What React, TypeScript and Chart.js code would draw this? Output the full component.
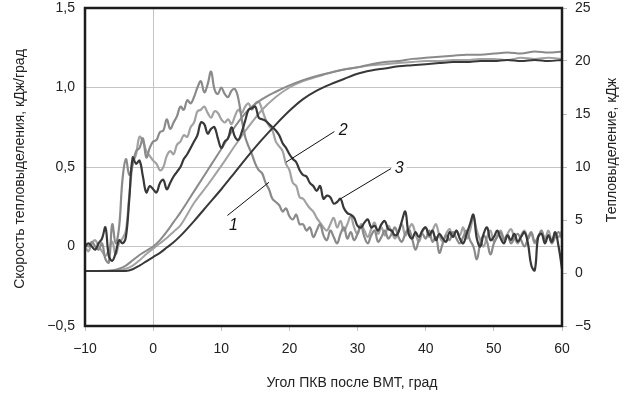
import React, { useEffect, useRef } from 'react';
import { Chart, registerables } from 'chart.js';

Chart.register(...registerables);

// ---- data ----
const angleStart = -10;
const angleStep = 0.5;

// heat release rate, kJ/deg (left axis), curves 1..3
const rate1 = [
  0.02, 0.0, 0.03, 0.0, -0.02, 0.02, -0.08, -0.1, 0.14, 0.02,
  0.12, 0.42, 0.55, 0.45, 0.52, 0.6, 0.62, 0.68, 0.56, 0.62,
  0.66, 0.67, 0.72, 0.73, 0.8, 0.74, 0.78, 0.82, 0.88, 0.86,
  0.92, 0.9, 0.94, 1.0, 1.04, 0.97, 1.02, 1.1, 0.99, 0.96,
  1.0, 0.96, 0.94, 0.98, 0.99, 0.93, 0.8, 0.69, 0.63, 0.58,
  0.52, 0.48, 0.46, 0.4, 0.36, 0.3, 0.28, 0.26, 0.22, 0.24,
  0.19, 0.17, 0.2, 0.14, 0.14, 0.1, 0.12, 0.06, 0.1, 0.14,
  0.07, 0.04, 0.1, 0.06, 0.02, 0.08, 0.12, 0.05, 0.09, 0.04,
  0.08, 0.13, 0.06, 0.02, 0.07, 0.1, 0.03, 0.06, 0.1, 0.05,
  0.08, 0.12, 0.06, 0.03, 0.08, 0.11, 0.05, -0.02, 0.04, 0.08,
  0.05, 0.1, 0.03, 0.06, -0.04, 0.02, 0.07, 0.04, 0.09, 0.05,
  0.02, 0.06, 0.1, 0.04, 0.0, -0.08, 0.02, 0.07, 0.03, -0.05,
  0.02, 0.06, 0.09, 0.04, 0.07, 0.02, 0.05, 0.08, 0.04, 0.0,
  0.05, 0.09, 0.03, 0.06, 0.1, 0.04, 0.07, 0.02, 0.06, 0.09,
  0.05,
];
const rate2 = [
  0.0, -0.03, 0.02, 0.04, 0.0, -0.03, -0.06, -0.02, 0.03, -0.05,
  0.02, 0.05, 0.1, 0.32, 0.52, 0.58, 0.69, 0.66, 0.6, 0.57,
  0.54, 0.52, 0.48, 0.5, 0.57, 0.6, 0.58, 0.64, 0.66, 0.7,
  0.69, 0.75, 0.78, 0.85, 0.86, 0.88, 0.84, 0.81, 0.85, 0.84,
  0.8, 0.78, 0.8, 0.77, 0.82, 0.86, 0.84, 0.88, 0.9, 0.86,
  0.9, 0.91, 0.86, 0.8, 0.76, 0.73, 0.66, 0.63, 0.6, 0.52,
  0.48, 0.4, 0.38, 0.31, 0.3, 0.27, 0.24, 0.22, 0.18, 0.15,
  0.12, 0.1, 0.14, 0.18, 0.12, 0.16, 0.1, 0.14, 0.19, 0.12,
  0.08, 0.14, 0.1, 0.06, 0.11, 0.15, 0.08, 0.12, 0.07, 0.13,
  0.09, 0.05, 0.1, 0.14, 0.07, 0.11, 0.14, 0.08, 0.03, 0.09,
  0.12, 0.06, 0.1, 0.14, 0.07, 0.03, 0.08, 0.11, 0.06, 0.1,
  0.07, 0.12, 0.05, 0.1, 0.18, 0.1, 0.04, 0.0, 0.06, 0.1,
  0.03, 0.07, 0.1, 0.05, 0.08, 0.11, 0.06, 0.02, 0.07, 0.1,
  0.05, 0.08, 0.02, 0.06, 0.09, 0.05, 0.1, 0.04, 0.08, 0.06,
  0.1,
];
const rate3 = [
  0.0, 0.02, 0.0, -0.02, 0.02, 0.05, 0.12, -0.06, -0.09, -0.04,
  0.04, 0.02, 0.06, 0.3, 0.56, 0.52, 0.54, 0.44, 0.34, 0.38,
  0.36, 0.34, 0.4, 0.42, 0.36, 0.4, 0.44, 0.47, 0.5, 0.55,
  0.58, 0.62, 0.66, 0.7, 0.78, 0.77, 0.71, 0.74, 0.75, 0.68,
  0.62, 0.66, 0.68, 0.75, 0.69, 0.67, 0.72, 0.79, 0.86, 0.87,
  0.88, 0.81, 0.8, 0.79, 0.77, 0.75, 0.73, 0.7, 0.65, 0.62,
  0.58, 0.55, 0.53, 0.48, 0.45, 0.44, 0.4, 0.38, 0.35, 0.38,
  0.3, 0.32, 0.31, 0.27, 0.28, 0.3, 0.24, 0.21, 0.2, 0.18,
  0.13, 0.12, 0.15, 0.17, 0.12, 0.13, 0.1, 0.14, 0.16, 0.11,
  0.1, 0.07, 0.09, 0.16, 0.22, 0.08, 0.05, 0.09, 0.06, 0.1,
  0.12, 0.07, 0.1, 0.04, 0.08, 0.05, 0.03, 0.09, 0.06, 0.1,
  0.05, 0.02, 0.08, 0.14, 0.2, 0.05, 0.0, 0.08, 0.12, 0.04,
  0.06, 0.1, 0.05, 0.02, 0.07, 0.04, 0.08, 0.03, 0.06, 0.09,
  0.02, -0.12, -0.15, 0.06, 0.08, 0.02, 0.07, 0.03, 0.09, 0.0,
  -0.14,
];
const rateAngles = rate1.map((_, i) => angleStart + i * angleStep);

// cumulative heat release, kJ (right axis)
const cumAngles = [
  -10, -8, -6, -5, -4, -3, -2, -1, 0, 1, 2, 3, 4, 6, 8, 10, 12, 14, 16, 18, 20,
  22, 24, 26, 28, 30, 32, 34, 36, 38, 40, 42, 44, 46, 48, 50, 52, 54, 56, 58, 60,
];
const cum1 = [
  0.2, 0.2, 0.25, 0.4, 0.7, 1.2, 1.7, 2.1, 2.5, 3.1, 3.9, 4.8, 5.7, 7.7, 9.7, 11.7, 13.8, 15.4, 16.4, 17.1, 17.7,
  18.2, 18.6, 18.9, 19.2, 19.4, 19.7, 19.9, 20.0, 20.2, 20.3, 20.4, 20.5, 20.6, 20.6, 20.7, 20.8, 20.7, 20.9, 20.8, 20.9,
];
const cum2 = [
  0.2, 0.2, 0.2, 0.25, 0.4, 0.7, 1.2, 1.8, 2.3, 2.8, 3.3, 3.9, 4.5, 6.6, 8.3, 10.1, 12.0, 13.8, 15.4, 16.6, 17.5,
  18.1, 18.5, 18.9, 19.2, 19.4, 19.6, 19.7, 19.8, 19.9, 20.0, 20.0, 20.1, 20.1, 20.2, 20.2, 20.1, 20.3, 20.2, 20.3, 20.2,
];
const cum3 = [
  0.2, 0.2, 0.2, 0.2, 0.2, 0.35, 0.7, 1.1, 1.5, 1.9, 2.4, 2.9, 3.5, 4.9, 6.4, 7.9, 9.5, 11.1, 12.6, 14.0, 15.3,
  16.4, 17.2, 17.8, 18.3, 18.8, 19.1, 19.3, 19.5, 19.6, 19.7, 19.8, 19.9, 19.9, 20.0, 20.0, 20.1, 20.0, 20.1, 20.0, 20.1,
];

// curve labels with leader lines (data coordinates, left axis)
const curveLabels = ['1', '2', '3'];
const labelX = [11.8, 27.9, 36.1];
const labelY = [0.13, 0.73, 0.49];
const leaderFromX = [10.9, 19.5, 27.5];
const leaderFromY = [0.195, 0.53, 0.3];
const leaderToX = [17.0, 26.6, 34.9];
const leaderToY = [0.404, 0.723, 0.49];

const xTitle = 'Угол ПКВ после ВМТ, град';
const yLeftTitle = 'Скорость тепловыделения, кДж/град';
const yRightTitle = 'Тепловыделение, кДж';

const colors = ['#8a8a8a', '#a2a2a2', '#383838'];

const FONT = '"Liberation Sans", Arial, sans-serif';
const minus = (s: string) => s.replace('-', '\u2212');

const toPts = (xs: number[], ys: number[]) => xs.map((x, i) => ({ x, y: ys[i] }));

const decorPlugin = {
  id: 'decor',
  afterDatasetsDraw(chart: any) {
    const { ctx, chartArea: a, scales } = chart;
    const sx = (v: number) => scales.x.getPixelForValue(v);
    const sy = (v: number) => scales.y.getPixelForValue(v);
    ctx.save();
    // leader lines
    ctx.strokeStyle = '#111';
    ctx.lineWidth = 1;
    for (let i = 0; i < curveLabels.length; i++) {
      ctx.beginPath();
      ctx.moveTo(sx(leaderFromX[i]), sy(leaderFromY[i]));
      ctx.lineTo(sx(leaderToX[i]), sy(leaderToY[i]));
      ctx.stroke();
    }
    ctx.font = 'italic 16px ' + FONT;
    ctx.textAlign = 'center';
    ctx.textBaseline = 'middle';
    for (let i = 0; i < curveLabels.length; i++) {
      const x = sx(labelX[i]);
      const y = sy(labelY[i]);
      const w = ctx.measureText(curveLabels[i]).width;
      ctx.fillStyle = '#fff';
      ctx.fillRect(x - w / 2 - 3, y - 8, w + 6, 16);
      ctx.fillStyle = '#111';
      ctx.fillText(curveLabels[i], x, y);
    }
    // frame
    ctx.strokeStyle = '#1c1c1c';
    ctx.lineWidth = 2.5;
    ctx.strokeRect(a.left, a.top, a.right - a.left, a.bottom - a.top);
    // axis titles
    ctx.fillStyle = '#222';
    ctx.font = '14px ' + FONT;
    ctx.textAlign = 'center';
    ctx.textBaseline = 'middle';
    ctx.fillText(xTitle, 352, 383);
    ctx.save();
    ctx.translate(20, 169);
    ctx.rotate(-Math.PI / 2);
    ctx.fillText(yLeftTitle, 0, 0);
    ctx.restore();
    ctx.save();
    ctx.translate(612, 150);
    ctx.rotate(-Math.PI / 2);
    ctx.fillText(yRightTitle, 0, 0);
    ctx.restore();
    ctx.restore();
  },
};

export default function App() {
  const ref = useRef<HTMLCanvasElement | null>(null);
  useEffect(() => {
    if (!ref.current) return;
    const tickFont = { family: FONT, size: 14 };
    const rateDs = (label: string, data: number[], color: string) => ({
      label,
      data: toPts(rateAngles, data),
      yAxisID: 'y',
      borderColor: color,
      borderWidth: 2.2,
      pointRadius: 0,
      tension: 0.4,
      fill: false,
    });
    const cumDs = (label: string, data: number[], color: string) => ({
      label,
      data: toPts(cumAngles, data),
      yAxisID: 'y1',
      borderColor: color,
      borderWidth: 2,
      pointRadius: 0,
      cubicInterpolationMode: 'monotone',
      fill: false,
    });
    const fitY = (w: number) => (s: any) => {
      s.width = w;
      s.paddingTop = 0;
      s.paddingBottom = 0;
    };
    const chart = new Chart(ref.current, {
      type: 'line',
      data: {
        datasets: [
          rateDs('Скорость 3', rate3, colors[2]),
          cumDs('Тепловыделение 3', cum3, colors[2]),
          rateDs('Скорость 1', rate1, colors[0]),
          cumDs('Тепловыделение 1', cum1, colors[0]),
          rateDs('Скорость 2', rate2, colors[1]),
          cumDs('Тепловыделение 2', cum2, colors[1]),
        ] as any,
      },
      options: {
        responsive: false,
        maintainAspectRatio: false,
        devicePixelRatio: 1,
        animation: false,
        layout: { padding: { top: 8, left: 0, right: 0, bottom: 0 } },
        plugins: { legend: { display: false }, tooltip: { enabled: false } },
        scales: {
          x: {
            type: 'linear',
            min: -10,
            max: 60,
            ticks: {
              stepSize: 10,
              font: tickFont,
              color: '#222',
              padding: 10,
              maxRotation: 0,
              callback: (v: any) => minus(String(v)),
            },
            grid: {
              color: (c: any) => (c.tick && c.tick.value === 0 ? '#c4c4c4' : 'rgba(0,0,0,0)'),
              tickColor: '#c4c4c4',
              tickLength: 5,
            },
            border: { display: false },
            afterFit: (s: any) => {
              s.height = 71;
              s.paddingLeft = 0;
              s.paddingRight = 0;
            },
          },
          y: {
            type: 'linear',
            position: 'left',
            min: -0.5,
            max: 1.5,
            ticks: {
              stepSize: 0.5,
              font: tickFont,
              color: '#222',
              padding: 10,
              callback: (v: any) => (v === 0 ? '0' : minus(Number(v).toFixed(1).replace('.', ','))),
            },
            grid: { color: '#c4c4c4', drawTicks: false },
            border: { display: false },
            afterFit: fitY(85),
          },
          y1: {
            type: 'linear',
            position: 'right',
            min: -5,
            max: 25,
            ticks: {
              stepSize: 5,
              font: tickFont,
              color: '#222',
              padding: 8,
              callback: (v: any) => minus(String(v)),
            },
            grid: { drawOnChartArea: false, tickColor: '#bdbdbd', tickLength: 5 },
            border: { display: false },
            afterFit: fitY(66),
          },
        },
      } as any,
      plugins: [decorPlugin],
    });
    return () => chart.destroy();
  }, []);
  return (
    <div style={{ position: 'absolute', left: 0, top: 0, width: 628, height: 397, background: '#fff' }}>
      <canvas ref={ref} width={628} height={397} style={{ display: 'block' }} />
    </div>
  );
}
